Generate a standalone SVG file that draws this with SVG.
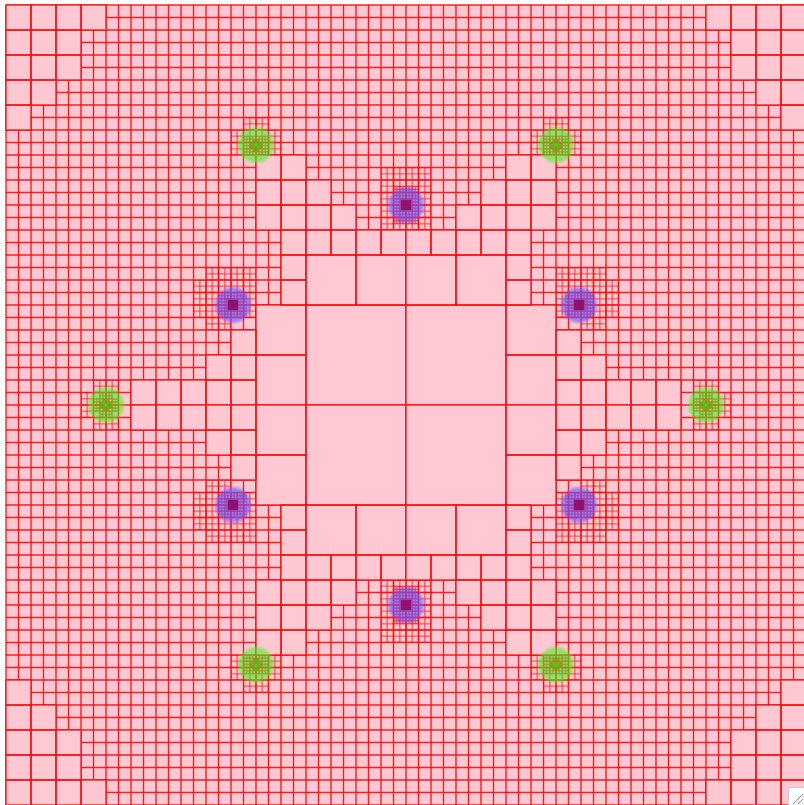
<svg xmlns="http://www.w3.org/2000/svg" width="804" height="805" viewBox="0 0 804 805">
<style>
.ln{fill:none;stroke:#ff0000;stroke-width:1.4;stroke-opacity:.85}
.fl{fill:none;stroke:#ff0000;stroke-width:1;stroke-opacity:.8}
</style>
<defs>
<pattern id="p7" x="6" y="5" width="6.25" height="6.25" patternUnits="userSpaceOnUse"><path class="fl" d="M0 0V6.25M6.25 0V6.25M0 0H6.25M0 6.25H6.25"/></pattern>
<pattern id="p8" x="6" y="5" width="3.125" height="3.125" patternUnits="userSpaceOnUse"><path class="fl" d="M0 0V3.125M3.125 0V3.125M0 0H3.125M0 3.125H3.125"/></pattern>
<pattern id="p9" x="6" y="5" width="1.5625" height="1.5625" patternUnits="userSpaceOnUse"><path class="fl" d="M0 0V1.5625M1.5625 0V1.5625M0 0H1.5625M0 1.5625H1.5625"/></pattern>
<radialGradient id="gG"><stop offset="0" stop-color="#46f028" stop-opacity=".6"/><stop offset=".78" stop-color="#46f028" stop-opacity=".6"/><stop offset="1" stop-color="#46f028" stop-opacity="0"/></radialGradient>
<radialGradient id="gP"><stop offset="0" stop-color="#6a5cff" stop-opacity=".65"/><stop offset=".78" stop-color="#6a5cff" stop-opacity=".65"/><stop offset="1" stop-color="#6a5cff" stop-opacity="0"/></radialGradient>
<g id="cc">
<rect x="306" y="305" width="100" height="100"/>
<rect x="256" y="305" width="50" height="50"/><rect x="256" y="355" width="50" height="50"/>
<rect x="306" y="255" width="50" height="50"/><rect x="356" y="255" width="50" height="50"/>
<rect x="6" y="5" width="25" height="25"/><rect x="31" y="5" width="25" height="25"/><rect x="56" y="5" width="25" height="25"/><rect x="81" y="5" width="25" height="25"/>
<rect x="6" y="30" width="25" height="25"/><rect x="31" y="30" width="25" height="25"/><rect x="56" y="30" width="25" height="25"/>
<rect x="6" y="55" width="25" height="25"/><rect x="31" y="55" width="25" height="25"/><rect x="56" y="55" width="25" height="25"/>
<rect x="6" y="80" width="25" height="25"/><rect x="31" y="80" width="25" height="25"/>
<rect x="6" y="105" width="25" height="25"/>
<rect x="131" y="380" width="25" height="25"/><rect x="156" y="380" width="25" height="25"/><rect x="181" y="380" width="25" height="25"/><rect x="206" y="380" width="25" height="25"/><rect x="231" y="380" width="25" height="25"/>
<rect x="206" y="355" width="25" height="25"/><rect x="231" y="355" width="25" height="25"/><rect x="231" y="330" width="25" height="25"/>
<rect x="306" y="230" width="25" height="25"/><rect x="331" y="230" width="25" height="25"/><rect x="356" y="230" width="25" height="25"/><rect x="381" y="230" width="25" height="25"/>
<rect x="256" y="155" width="25" height="25"/><rect x="281" y="155" width="25" height="25"/>
<rect x="256" y="180" width="25" height="25"/><rect x="281" y="180" width="25" height="25"/>
<rect x="256" y="205" width="25" height="25"/><rect x="281" y="205" width="25" height="25"/>
<rect x="306" y="180" width="25" height="25"/><rect x="306" y="205" width="25" height="25"/><rect x="331" y="205" width="25" height="25"/>
<rect x="281" y="230" width="25" height="25"/><rect x="281" y="255" width="25" height="25"/><rect x="281" y="280" width="25" height="25"/>
</g>
<g id="q">
<use href="#cc" fill="#ffc8d2"/>
<use href="#cc" class="ln"/>
<g id="fine">
<rect x="231" y="130" width="50" height="25" fill="url(#p7)"/>
<rect x="243.5" y="117.5" width="25" height="12.5" fill="url(#p7)"/>
<rect x="243.5" y="136.25" width="25" height="18.75" fill="url(#p8)"/>
<rect x="252.875" y="139.375" width="6.25" height="12.5" fill="url(#p9)"/>
<rect x="249.75" y="142.5" width="3.125" height="6.25" fill="url(#p9)"/>
<rect x="259.125" y="142.5" width="3.125" height="6.25" fill="url(#p9)"/>
<rect x="381" y="167.5" width="25" height="62.5" fill="url(#p7)"/>
<rect x="393.5" y="186.25" width="12.5" height="37.5" fill="url(#p8)"/>
<rect x="399.75" y="198.75" width="6.25" height="12.5" fill="url(#p9)"/>
<rect x="206" y="267.5" width="50" height="12.5" fill="url(#p7)"/>
<rect x="193.5" y="280" width="62.5" height="37.5" fill="url(#p7)"/>
<rect x="206" y="317.5" width="25" height="12.5" fill="url(#p7)"/>
<rect x="218.5" y="292.5" width="28.125" height="25" fill="url(#p8)"/>
<rect x="226.3125" y="298.75" width="12.5" height="12.5" fill="url(#p9)"/>
<rect x="81" y="392.5" width="37.5" height="12.5" fill="url(#p7)"/>
<rect x="93.5" y="380" width="25" height="12.5" fill="url(#p7)"/>
<rect x="93.5" y="398.75" width="25" height="6.25" fill="url(#p8)"/>
<rect x="99.75" y="392.5" width="12.5" height="6.25" fill="url(#p8)"/>
<rect x="99.75" y="401.875" width="12.5" height="3.125" fill="url(#p9)"/>
<rect x="102.875" y="398.75" width="6.25" height="3.125" fill="url(#p9)"/>
</g>
</g>
</defs>
<rect x="6" y="5" width="800" height="800" fill="#ffc8d2"/>
<g id="grid">
<path class="ln" d="M6 5V805M18.5 5V805M31 5V805M43.5 5V805M56 5V805M68.5 5V805M81 5V805M93.5 5V805M106 5V805M118.5 5V805M131 5V805M143.5 5V805M156 5V805M168.5 5V805M181 5V805M193.5 5V805M206 5V805M218.5 5V805M231 5V805M243.5 5V805M256 5V805M268.5 5V805M281 5V805M293.5 5V805M306 5V805M318.5 5V805M331 5V805M343.5 5V805M356 5V805M368.5 5V805M381 5V805M393.5 5V805M406 5V805M418.5 5V805M431 5V805M443.5 5V805M456 5V805M468.5 5V805M481 5V805M493.5 5V805M506 5V805M518.5 5V805M531 5V805M543.5 5V805M556 5V805M568.5 5V805M581 5V805M593.5 5V805M606 5V805M618.5 5V805M631 5V805M643.5 5V805M656 5V805M668.5 5V805M681 5V805M693.5 5V805M706 5V805M718.5 5V805M731 5V805M743.5 5V805M756 5V805M768.5 5V805M781 5V805M793.5 5V805M806 5V805"/>
<path class="ln" d="M6 5H806M6 17.5H806M6 30H806M6 42.5H806M6 55H806M6 67.5H806M6 80H806M6 92.5H806M6 105H806M6 117.5H806M6 130H806M6 142.5H806M6 155H806M6 167.5H806M6 180H806M6 192.5H806M6 205H806M6 217.5H806M6 230H806M6 242.5H806M6 255H806M6 267.5H806M6 280H806M6 292.5H806M6 305H806M6 317.5H806M6 330H806M6 342.5H806M6 355H806M6 367.5H806M6 380H806M6 392.5H806M6 405H806M6 417.5H806M6 430H806M6 442.5H806M6 455H806M6 467.5H806M6 480H806M6 492.5H806M6 505H806M6 517.5H806M6 530H806M6 542.5H806M6 555H806M6 567.5H806M6 580H806M6 592.5H806M6 605H806M6 617.5H806M6 630H806M6 642.5H806M6 655H806M6 667.5H806M6 680H806M6 692.5H806M6 705H806M6 717.5H806M6 730H806M6 742.5H806M6 755H806M6 767.5H806M6 780H806M6 792.5H806M6 805H806"/>
</g>
<g id="cells">
<use href="#q"/>
<use href="#q" transform="matrix(-1 0 0 1 812 0)"/>
<use href="#q" transform="matrix(1 0 0 -1 0 810)"/>
<use href="#q" transform="matrix(-1 0 0 -1 812 810)"/>
</g>
<g id="green">
<circle cx="106" cy="405" r="20" fill="url(#gG)"/>
<circle cx="706" cy="405" r="20" fill="url(#gG)"/>
<circle cx="256" cy="145" r="20" fill="url(#gG)"/>
<circle cx="556" cy="145" r="20" fill="url(#gG)"/>
<circle cx="256" cy="665" r="20" fill="url(#gG)"/>
<circle cx="556" cy="665" r="20" fill="url(#gG)"/>
<g fill="#00ff00">
<rect x="104.5" y="403.5" width="3" height="3"/><rect x="704.5" y="403.5" width="3" height="3"/>
<rect x="254.5" y="143.5" width="3" height="3"/><rect x="554.5" y="143.5" width="3" height="3"/>
<rect x="254.5" y="663.5" width="3" height="3"/><rect x="554.5" y="663.5" width="3" height="3"/>
</g>
</g>
<g id="purple">
<circle cx="406" cy="205" r="20" fill="url(#gP)"/>
<circle cx="406" cy="605" r="20" fill="url(#gP)"/>
<circle cx="233" cy="305" r="20" fill="url(#gP)"/>
<circle cx="579" cy="305" r="20" fill="url(#gP)"/>
<circle cx="233" cy="505" r="20" fill="url(#gP)"/>
<circle cx="579" cy="505" r="20" fill="url(#gP)"/>
<g fill="#8c0a64" opacity=".85">
<rect x="401" y="200" width="10" height="10"/><rect x="401" y="600" width="10" height="10"/>
<rect x="228" y="300" width="10" height="10"/><rect x="574" y="300" width="10" height="10"/>
<rect x="228" y="500" width="10" height="10"/><rect x="574" y="500" width="10" height="10"/>
</g>
</g>
<g id="grip">
<rect x="788.5" y="787.5" width="16" height="18" fill="#ffffff" stroke="#cccccc"/>
<path d="M793 804L803 794M798 804L803 799" stroke="#999999" stroke-width="1"/>
</g>
</svg>
